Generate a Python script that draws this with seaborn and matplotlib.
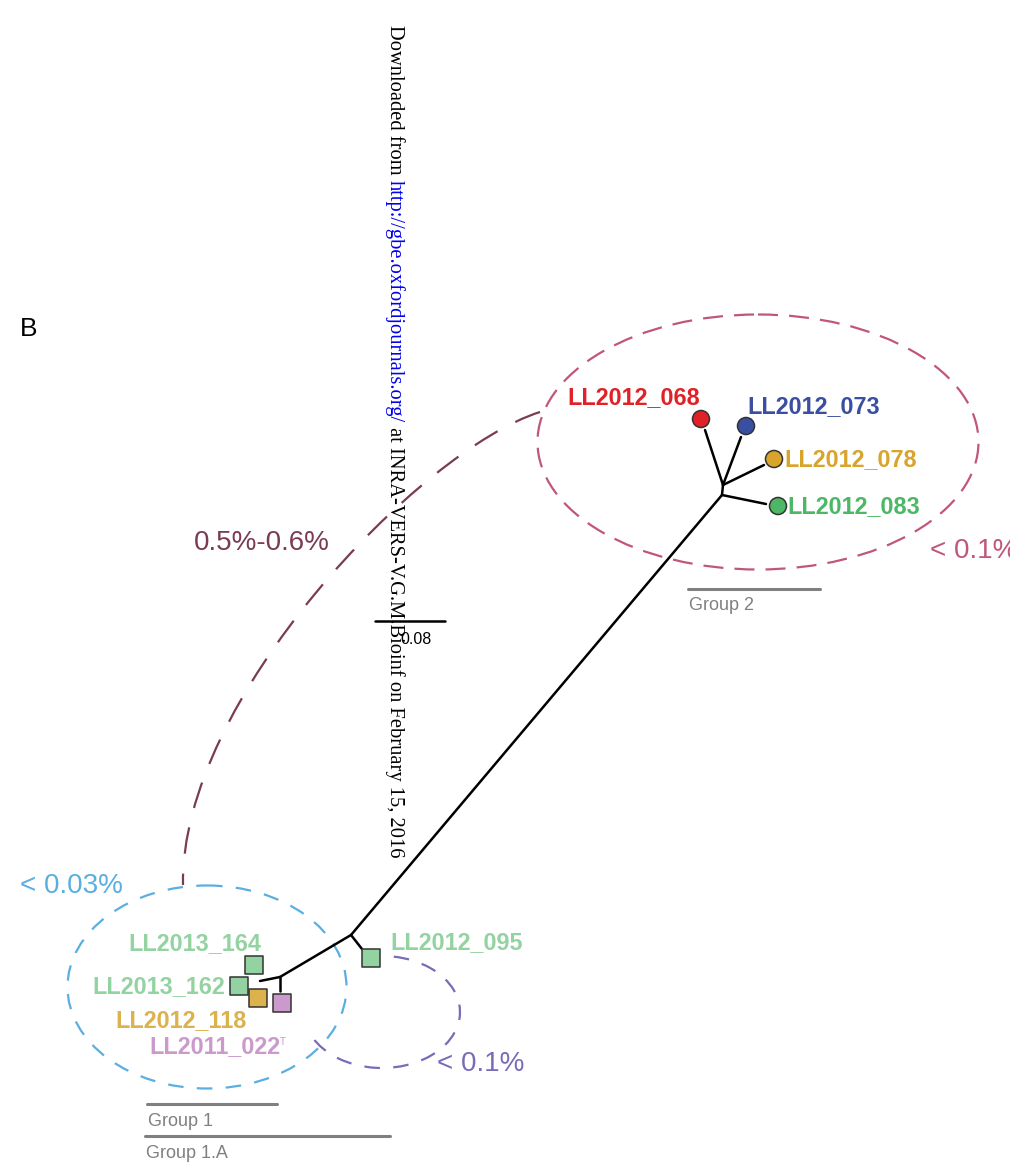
import pandas as pd
import matplotlib.pyplot as plt
import seaborn as sns
from matplotlib.patches import Ellipse, Arc, PathPatch, Rectangle
from matplotlib.path import Path

sns.set_theme(style="white")
plt.rcParams['font.family'] = ['Liberation Sans', 'DejaVu Sans']

# tips (layout coordinates of the unrooted tree)
tip_names = ["LL2012_068", "LL2012_073", "LL2012_078", "LL2012_083",
             "LL2013_164", "LL2013_162", "LL2012_118", "LL2011_022", "LL2012_095"]
tip_x = [701, 746, 774, 778, 254, 239, 258, 282, 371]
tip_y = [419, 426, 459, 506, 965, 986, 998, 1003, 958]
tip_shape = ["o", "o", "o", "o", "s", "s", "s", "s", "s"]
tip_colors = ["#e02228", "#3a4ea2", "#d8a42b", "#4cb865",
              "#93d3a2", "#93d3a2", "#dbb24c", "#cc99cc", "#93d3a2"]
label_x = [634, 814, 851, 854, 195, 159, 181, 215, 457]
label_y = [398, 407, 460, 507, 944, 987, 1021, 1047, 943]

# branches: (x0, y0, x1, y1)
branches = [
    (723, 485, 705, 430),
    (723, 485, 741, 437),
    (723, 485, 764, 465),
    (722, 495, 766, 504),
    (722, 495, 723, 485),
    (722, 495, 351, 935),
    (351, 935, 362, 949),
    (351, 935, 280, 977),
    (280, 977, 280, 991),
    (280, 977, 260, 981),
]

tips = pd.DataFrame({"name": tip_names, "x": tip_x, "y": tip_y,
                     "shape": tip_shape, "color": tip_colors})
edges = pd.DataFrame(
    [{"edge": i, "x": b[0], "y": b[1]} for i, b in enumerate(branches)] +
    [{"edge": i, "x": b[2], "y": b[3]} for i, b in enumerate(branches)])

fig = plt.figure(figsize=(10.22, 11.67), dpi=100)
ax = fig.add_axes([0, 0, 1, 1])
ax.set_xlim(0, 1022)
ax.set_ylim(1167, 0)
ax.axis('off')

# dashed clade ellipses
ax.add_patch(Ellipse((758, 442), 441, 255, fill=False, ec="#c0577a",
                     lw=1.6, ls=(0, (9, 5))))
ax.add_patch(Ellipse((207, 987), 279, 203, fill=False, ec="#5aaee0",
                     lw=1.6, ls=(0, (7, 6))))
ax.add_patch(Arc((382, 1012), 156, 112, theta1=-78, theta2=160,
                 ec="#7a6bb8", lw=1.6, ls=(0, (7, 6))))
curve = Path([(540, 412), (420, 450), (180, 700), (183, 885)],
             [Path.MOVETO, Path.CURVE4, Path.CURVE4, Path.CURVE4])
ax.add_patch(PathPatch(curve, fill=False, ec="#7a3b55", lw=1.6,
                       ls=(0, (12, 9))))

# branches
sns.lineplot(data=edges, x="x", y="y", units="edge", estimator=None,
             sort=False, color="black", lw=1.8, ax=ax, legend=False)

# tips
for shp in ["o", "s"]:
    sub = tips[tips["shape"] == shp]
    sns.scatterplot(data=sub, x="x", y="y", hue="name",
                    palette=dict(zip(sub["name"], sub["color"])),
                    marker=shp, s=150, edgecolor="#333333", linewidth=1.1,
                    ax=ax, legend=False, zorder=5)

for n, lx, ly, c in zip(tip_names, label_x, label_y, tip_colors):
    ax.text(lx, ly, n, color=c, fontsize=16.8, fontweight="bold",
            ha="center", va="center")
ax.text(280, 1042, "T", color="#cc99cc", fontsize=7, ha="left", va="center")

# percentage annotations
ax.text(262, 543, "0.5%-0.6%", color="#7a3b55", fontsize=20, ha="center", va="center")
t = ax.text(930, 551, "< 0.1%", color="#c0577a", fontsize=20, ha="left",
            va="center", clip_on=True)
t.set_clip_path(Rectangle((0, 0), 1010, 1167, transform=ax.transData))
ax.text(20, 886, "< 0.03%", color="#5aaee0", fontsize=20, ha="left", va="center")
ax.text(437, 1064, "< 0.1%", color="#7a6bb8", fontsize=20, ha="left", va="center")

# group bars
gray = "#808080"
for x0, x1, yb, lab in [(688, 820, 589, "Group 2"), (147, 277, 1104, "Group 1"),
                        (145, 390, 1136, "Group 1.A")]:
    ax.plot([x0, x1], [yb, yb], color=gray, lw=2.2)
    ax.text(x0 + 1, yb + 17, lab, color=gray, fontsize=13, ha="left", va="center")

# scale bar
ax.plot([375, 445], [621, 621], color="black", lw=1.8)
ax.text(416, 639, "0.08", color="black", fontsize=11.5, ha="center", va="center")

ax.text(20, 329, "B", color="black", fontsize=19, ha="left", va="center")

# rotated download watermark, pieces placed one after another
serif = ['Liberation Serif', 'DejaVu Serif']
pieces = [("Downloaded from ", "black"),
          ("http://gbe.oxfordjournals.org/", "#0000ee"),
          (" at INRA-VERS-V.G.M.Bioinf on February 15, 2016", "black")]
wm_top, wm_bottom = 25, 862
wm = [ax.text(395, wm_top, s, rotation=-90, ha="center", va="top",
              fontsize=15, family=serif, color=c) for s, c in pieces]
fig.canvas.draw()
r = fig.canvas.get_renderer()
total = sum(w.get_window_extent(r).height for w in wm)
fs = 15 * (wm_bottom - wm_top) / total
y = wm_top
for w in wm:
    w.set_fontsize(fs)
    w.set_y(y)
    fig.canvas.draw()
    y += w.get_window_extent(r).height

fig.savefig("out.png", dpi=100)
